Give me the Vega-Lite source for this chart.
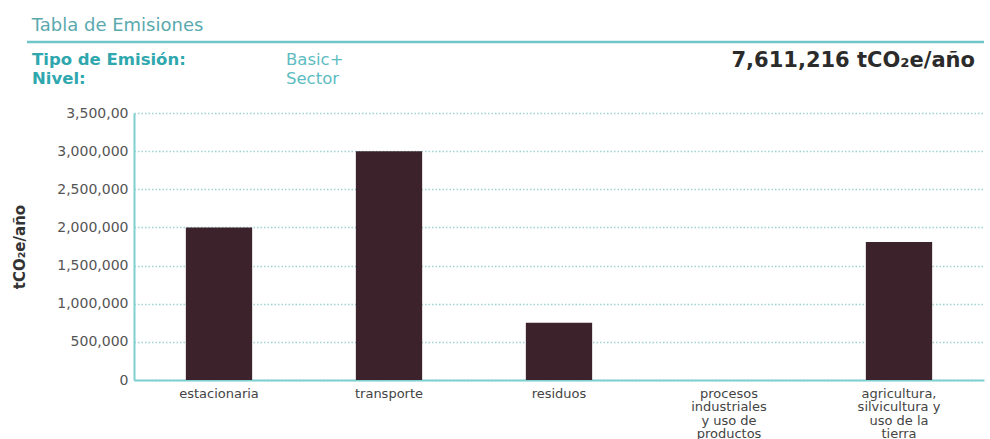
{
  "$schema": "https://vega.github.io/schema/vega-lite/v6.json",
  "background": "white",
  "padding": {"left": 12, "top": 16, "right": 4, "bottom": 0},
  "title": {"text": "Tabla de Emisiones", "anchor": "start", "dx": 19, "fontSize": 18, "fontWeight": "normal", "color": "#5aa9ae", "font": "DejaVu Sans", "offset": 6},
  "config": {"view": {"stroke": null}, "font": "DejaVu Sans"},
  "spacing": 9,
  "vconcat": [
    {
      "width": 850,
      "height": 55,
      "resolve": {"scale": {"y": "independent"}},
      "layer": [
        {
          "data": {"values": [{"campo": "Tipo de Emisión:", "valor": "Basic+"}, {"campo": "Nivel:", "valor": "Sector"}]},
          "encoding": {
            "y": {"field": "campo", "type": "nominal", "axis": null, "scale": {"type": "point", "domain": ["Tipo de Emisión:", "Nivel:"], "padding": 1.06}}
          },
          "layer": [
            {
              "mark": {"type": "text", "align": "left", "baseline": "middle", "fontSize": 16.5, "fontWeight": "bold", "color": "#2fa7ae"},
              "encoding": {
                "x": {"datum": 0.0052, "type": "quantitative", "scale": {"domain": [0, 1], "range": [-107, 850]}, "axis": null},
                "text": {"field": "campo"}
              }
            },
            {
              "mark": {"type": "text", "align": "left", "baseline": "middle", "fontSize": 16.5, "fontWeight": "normal", "color": "#5cbcc1"},
              "encoding": {
                "x": {"datum": 0.2706, "type": "quantitative", "scale": {"domain": [0, 1], "range": [-107, 850]}, "axis": null},
                "text": {"field": "valor"}
              }
            },
            {
              "data": {"values": [{"total": "7,611,216 tCO₂e/año"}]},
              "mark": {"type": "text", "align": "right", "baseline": "middle", "fontSize": 21, "fontWeight": "bold", "color": "#2b2b2b", "dy": 1},
              "encoding": {
                "x": {"datum": 0.9906, "type": "quantitative", "scale": {"domain": [0, 1], "range": [-107, 850]}, "axis": null},
                "y": {"datum": "Tipo de Emisión:", "type": "nominal"},
                "text": {"field": "total"}
              }
            }
          ]
        },
        {
          "data": {"values": [{}]},
          "mark": {"type": "rule", "color": "#6fc6c8", "strokeWidth": 2.5},
          "encoding": {
            "x": {"datum": 0, "type": "quantitative", "scale": {"domain": [0, 1], "range": [-107, 850]}, "axis": null},
            "x2": {"datum": 1},
            "y": {"datum": 1, "type": "quantitative", "scale": {"domain": [0, 1]}, "axis": null}
          }
        }
      ]
    },
    {
      "width": 850,
      "height": 267,
      "data": {"values": [
        {"sector": "estacionaria", "emisiones": 2000000},
        {"sector": "transporte", "emisiones": 3000000},
        {"sector": "residuos", "emisiones": 750000},
        {"sector": "procesos industriales y uso de productos", "emisiones": 0},
        {"sector": "agricultura, silvicultura y uso de la tierra", "emisiones": 1810000}
      ]},
      "mark": {"type": "bar", "color": "#3b222b"},
      "encoding": {
        "x": {
          "field": "sector", "type": "nominal", "sort": null,
          "scale": {"paddingInner": 0.61, "paddingOuter": 0.305},
          "axis": {
            "title": null, "labelAngle": 0, "ticks": false, "grid": false,
            "labelExpr": "datum.label == 'procesos industriales y uso de productos' ? ['procesos','industriales','y uso de','productos'] : datum.label == 'agricultura, silvicultura y uso de la tierra' ? ['agricultura,','silvicultura y','uso de la','tierra'] : datum.label",
            "labelFontSize": 13, "labelColor": "#444", "labelLineHeight": 13.5, "labelPadding": 7,
            "domainColor": "#7fcfd0", "domainWidth": 2
          }
        },
        "y": {
          "field": "emisiones", "type": "quantitative",
          "scale": {"domain": [0, 3500000]},
          "axis": {
            "title": "tCO₂e/año", "titleFontSize": 15, "titleFontWeight": "bold", "titleColor": "#333", "titlePadding": 29,
            "values": [0, 500000, 1000000, 1500000, 2000000, 2500000, 3000000, 3500000],
            "labelExpr": "datum.value == 3500000 ? '3,500,00' : format(datum.value, ',')",
            "labelFontSize": 14, "labelColor": "#555", "labelPadding": 6, "ticks": false,
            "domainColor": "#7fcfd0", "domainWidth": 2,
            "gridColor": "#9fd2d4", "gridDash": [1.5, 2], "gridWidth": 1.5
          }
        }
      }
    }
  ]
}
